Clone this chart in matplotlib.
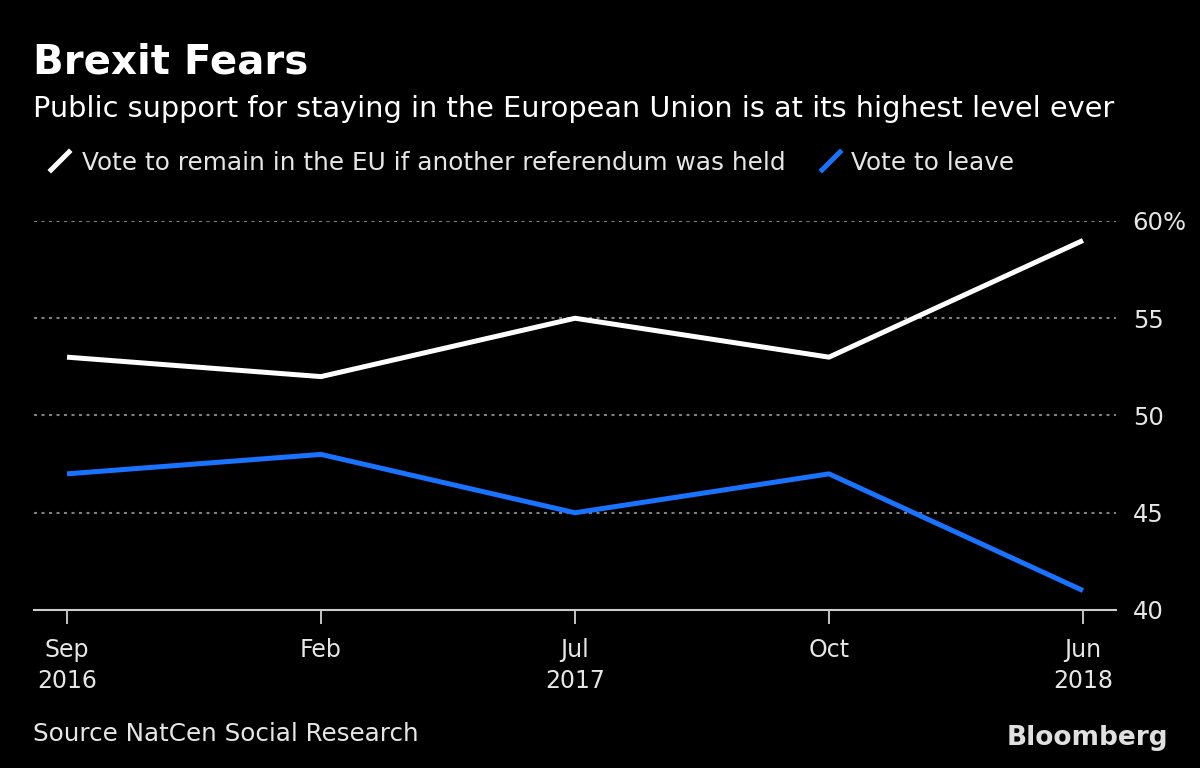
import matplotlib
matplotlib.use("Agg")
from matplotlib import pyplot as plt
from matplotlib.lines import Line2D

# Data
dates = ["Sep\n2016", "Feb", "Jul\n2017", "Oct", "Jun\n2018"]
remain = [53, 52, 55, 53, 59]
leave = [47, 48, 45, 47, 41]
y_ticks = [40, 45, 50, 55, 60]
y_labels = ["40", "45", "50", "55", "60%"]

bg = "black"
text_color = "#e6e6e6"
blue = "#1a73ff"

plt.rcParams["font.family"] = ["DejaVu Sans"]

fig = plt.figure(figsize=(12, 7.68), dpi=100, facecolor=bg)
ax = fig.add_axes([34 / 1200, 1 - 610 / 768, (1116 - 34) / 1200, (610 - 221) / 768])
ax.set_facecolor(bg)

x = list(range(len(dates)))
ax.plot(x, remain, color="white", linewidth=3.6, solid_capstyle="butt", zorder=3)
ax.plot(x, leave, color=blue, linewidth=3.6, solid_capstyle="butt", zorder=3)

ax.set_xlim(-0.13, len(dates) - 1 + 0.13)
ax.set_ylim(40, 60)

ax.set_xticks(x)
ax.set_xticklabels(dates, color=text_color, fontsize=17, linespacing=1.4)
ax.yaxis.tick_right()
ax.set_yticks(y_ticks)
ax.set_yticklabels(y_labels, color=text_color, fontsize=17.5)
ax.tick_params(axis="x", colors=text_color, length=10, width=1.2, pad=10, labelcolor=text_color)
ax.tick_params(axis="y", length=0, pad=12, labelcolor=text_color)

for s in ["top", "left", "right"]:
    ax.spines[s].set_visible(False)
ax.spines["bottom"].set_color("#cccccc")
ax.spines["bottom"].set_linewidth(1.5)

for yv in y_ticks[1:]:
    ax.axhline(yv, color="#808080", linewidth=1.5, linestyle=(0, (1.44, 2.16)), zorder=1)

# Title, subtitle
fig.text(33 / 1200, 1 - 73 / 768, "Brexit Fears", color="white", fontsize=29,
         fontweight="bold", ha="left", va="baseline")
fig.text(33 / 1200, 1 - 117 / 768, "Public support for staying in the European Union is at its highest level ever",
         color="white", fontsize=20.7, ha="left", va="baseline")

# Legend
def legend_item(x0, color, label, offset):
    fig.add_artist(Line2D([x0 / 1200, (x0 + 18) / 1200], [1 - 170 / 768, 1 - 152 / 768],
                          transform=fig.transFigure, color=color, linewidth=3.6))
    fig.text((x0 + offset) / 1200, 1 - 170 / 768, label, color=text_color, fontsize=17.8,
             ha="left", va="baseline")

legend_item(51, "white", "Vote to remain in the EU if another referendum was held", 31)
legend_item(822, blue, "Vote to leave", 29)

# Footer
fig.text(33 / 1200, 1 - 741 / 768, "Source NatCen Social Research", color=text_color,
         fontsize=17.7, ha="left", va="baseline")
fig.text(1168 / 1200, 1 - 745 / 768, "Bloomberg", color="#e0e0e0", fontsize=19,
         fontweight="bold", ha="right", va="baseline")

fig.savefig("out.png", facecolor=bg)
